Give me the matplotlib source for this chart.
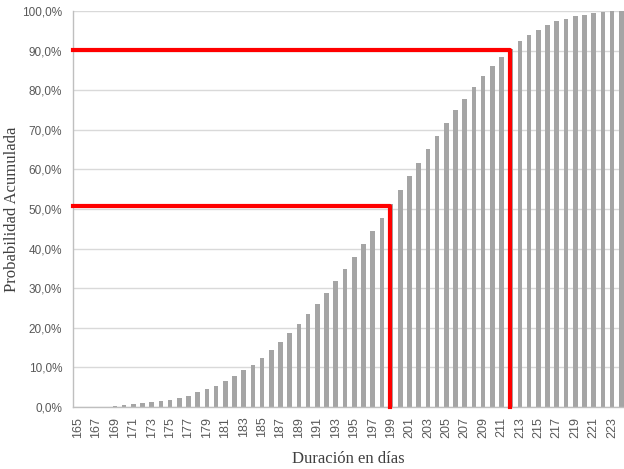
import matplotlib
matplotlib.use("Agg")
import matplotlib.pyplot as plt
from matplotlib.ticker import FuncFormatter, MultipleLocator
import numpy as np

# duration in days and cumulative probability (%)
days = list(range(165, 225))
cum_prob = [0.0, 0.0, 0.0, 0.0, 0.3, 0.5, 0.7, 0.9, 1.2, 1.4,
            1.8, 2.3, 2.9, 3.7, 4.5, 5.4, 6.6, 7.8, 9.3, 10.6,
            12.5, 14.4, 16.5, 18.6, 21.0, 23.5, 26.1, 28.9, 31.7, 34.8,
            38.0, 41.2, 44.5, 47.8, 51.2, 54.7, 58.3, 61.7, 65.2, 68.5,
            71.8, 74.9, 77.9, 80.7, 83.5, 86.2, 88.5, 90.5, 92.4, 93.9,
            95.3, 96.5, 97.4, 98.1, 98.7, 99.1, 99.5, 99.7, 99.9, 100.0]

# reference markers: (day, probability)
markers_day = [199, 212]
markers_prob = [50.8, 90.1]


def pct_fmt(v, pos):
    return "{:.1f}%".format(v).replace(".", ",")


def main():
    fig = plt.figure(figsize=(6.24, 4.69), dpi=100)
    ax = fig.add_axes([0.1176, 0.1322, 0.8824, 0.8443])

    ax.bar(days, cum_prob, width=0.5, color="#a5a5a5", zorder=2)

    for d, p in zip(markers_day, markers_prob):
        ax.plot([164.5, d - 0.1, d - 0.1], [p, p, 0], color="#ff0000", lw=3,
                solid_joinstyle="round", zorder=3, clip_on=False)

    ax.set_xlim(164.5, 224.3)
    ax.set_ylim(0, 100)
    ax.yaxis.set_major_locator(MultipleLocator(10))
    ax.yaxis.set_major_formatter(FuncFormatter(pct_fmt))
    ax.set_xticks(days[::2])
    ax.set_xticklabels([str(d) for d in days[::2]], rotation=90)

    ax.grid(axis="y", color="#d9d9d9", lw=1, zorder=0)
    for side in ["top", "right"]:
        ax.spines[side].set_visible(False)
    for side in ["left", "bottom"]:
        ax.spines[side].set_color("#bfbfbf")
        ax.spines[side].set_linewidth(1)
    ax.tick_params(length=0, colors="#595959")
    ax.tick_params(axis="y", labelsize=8.5, pad=8)
    ax.tick_params(axis="x", labelsize=9, pad=7)
    for lab in ax.get_xticklabels() + ax.get_yticklabels():
        lab.set_family("Liberation Sans")

    ax.set_ylabel("Probabilidad Acumulada", family="Liberation Serif",
                  fontsize=12, color="#404040", va="center")
    ax.yaxis.set_label_coords(-0.112, 0.5)
    ax.set_xlabel("Duración en días", family="Liberation Serif",
                  fontsize=12, color="#404040", va="center")
    ax.xaxis.set_label_coords(0.5, -0.131)

    fig.savefig("out.png", dpi=100)


if __name__ == '__main__':
    main()
